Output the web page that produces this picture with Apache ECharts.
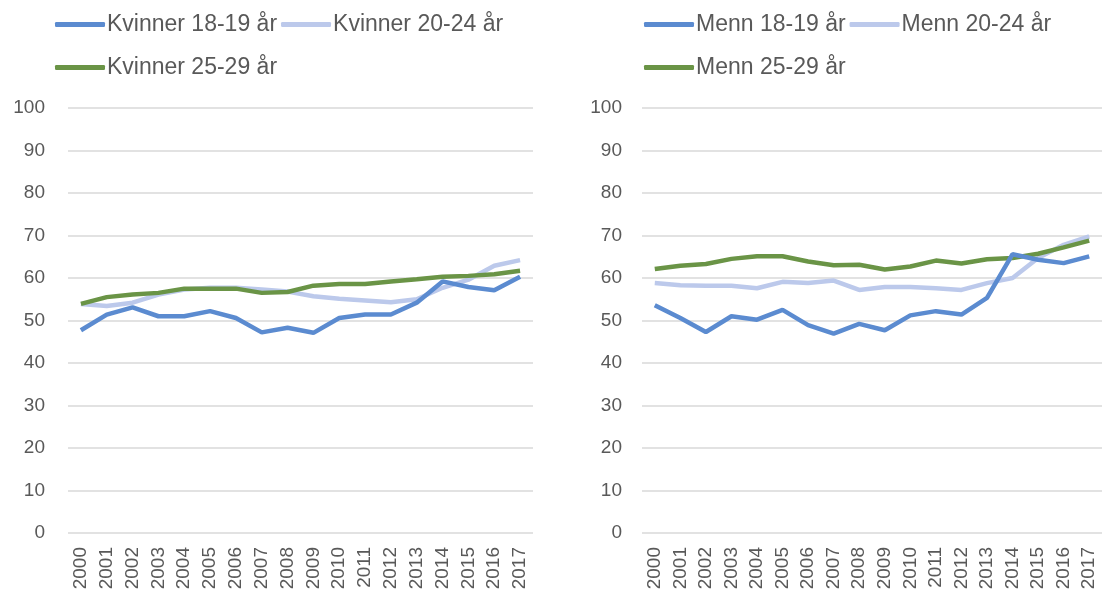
<!DOCTYPE html>
<html>
<head>
<meta charset="utf-8">
<script src="https://cdn.jsdelivr.net/npm/echarts@6/dist/echarts.min.js"></script>
<style>
  html, body { margin: 0; padding: 0; background: #fff; }
  #chart { width: 1102px; height: 601px; }
</style>
</head>
<body>
<div id="chart"></div>
<script>
// år
var years = ['2000', '2001', '2002', '2003', '2004', '2005', '2006', '2007', '2008',
  '2009', '2010', '2011', '2012', '2013', '2014', '2015', '2016', '2017']

// kvinner
var kvinner1819 = [47.7, 51.4, 53.1, 51.0, 51.0, 52.2, 50.6, 47.2, 48.3, 47.1, 50.6, 51.4, 51.4, 54.2, 59.2, 57.9, 57.1, 60.3]
var kvinner2024 = [53.9, 53.4, 54.2, 56.1, 57.3, 57.7, 57.7, 57.3, 56.8, 55.7, 55.1, 54.7, 54.3, 55.0, 57.7, 59.6, 62.9, 64.2]
var kvinner2529 = [53.9, 55.5, 56.1, 56.5, 57.5, 57.5, 57.5, 56.5, 56.7, 58.2, 58.6, 58.6, 59.2, 59.7, 60.3, 60.5, 60.9, 61.7]

// menn
var menn1819 = [53.6, 50.6, 47.3, 51.0, 50.2, 52.5, 48.9, 46.9, 49.2, 47.7, 51.2, 52.2, 51.4, 55.3, 65.6, 64.3, 63.5, 65.1]
var menn2024 = [58.8, 58.3, 58.2, 58.2, 57.6, 59.1, 58.8, 59.4, 57.2, 57.9, 57.9, 57.6, 57.2, 58.8, 60.0, 64.7, 67.8, 69.8]
var menn2529 = [62.1, 62.9, 63.3, 64.5, 65.1, 65.1, 63.9, 63.0, 63.1, 62.0, 62.7, 64.1, 63.4, 64.4, 64.7, 65.7, 67.2, 68.8]

var colBlue = '#5B8BD0'
var colLight = '#BCC9EB'
var colGreen = '#6A9446'
var txtColor = '#595959'
var fontName = 'Liberation Sans, Arial, sans-serif'

//图例 的相关设置
function legendRow(left, top, names) {
  return {
    left: left,
    top: top,
    data: names,
    icon: 'roundRect',
    itemWidth: 50,
    itemHeight: 5,
    itemGap: 4,
    textStyle: { color: txtColor, fontSize: 23, fontFamily: fontName, padding: [0, 0, 0, -3] },
  }
}

function makeX(idx) {
  return {
    type: 'category',
    gridIndex: idx,
    data: years,
    axisLine: { show: false },
    axisTick: { show: false },
    axisLabel: { rotate: 90, color: txtColor, fontSize: 19, fontFamily: fontName, margin: 14 },
  }
}

function makeY(idx, margin) {
  return {
    type: 'value',
    gridIndex: idx,
    min: 0,
    max: 100,
    interval: 10,
    axisLine: { show: false },
    axisTick: { show: false },
    splitLine: { lineStyle: { color: '#D9D9D9', width: 1.5 } },
    axisLabel: { color: txtColor, fontSize: 19, fontFamily: fontName, margin: margin },
  }
}

function makeLine(name, data, color, idx) {
  return {
    name: name,
    type: 'line',
    xAxisIndex: idx,
    yAxisIndex: idx,
    data: data,
    symbol: 'none',
    itemStyle: { color: color },
    lineStyle: { color: color, width: 4.5 },
  }
}

var myChart = echarts.init(document.getElementById('chart'))
var option = {
  animation: false,
  backgroundColor: '#fff',
  legend: [
    legendRow(50, 8, ['Kvinner 18-19 år', 'Kvinner 20-24 år']),
    legendRow(50, 51, ['Kvinner 25-29 år']),
    legendRow(639, 8, ['Menn 18-19 år', 'Menn 20-24 år']),
    legendRow(639, 51, ['Menn 25-29 år']),
  ],
  grid: [
    { left: 68, top: 108, width: 465, height: 425 },
    { left: 642, top: 108, width: 464, height: 425 },
  ],
  xAxis: [makeX(0), makeX(1)],
  yAxis: [makeY(0, 23), makeY(1, 20)],
  series: [
    makeLine('Kvinner 20-24 år', kvinner2024, colLight, 0),
    makeLine('Kvinner 25-29 år', kvinner2529, colGreen, 0),
    makeLine('Kvinner 18-19 år', kvinner1819, colBlue, 0),
    makeLine('Menn 20-24 år', menn2024, colLight, 1),
    makeLine('Menn 25-29 år', menn2529, colGreen, 1),
    makeLine('Menn 18-19 år', menn1819, colBlue, 1),
  ],
}
myChart.setOption(option)
</script>
</body>
</html>
